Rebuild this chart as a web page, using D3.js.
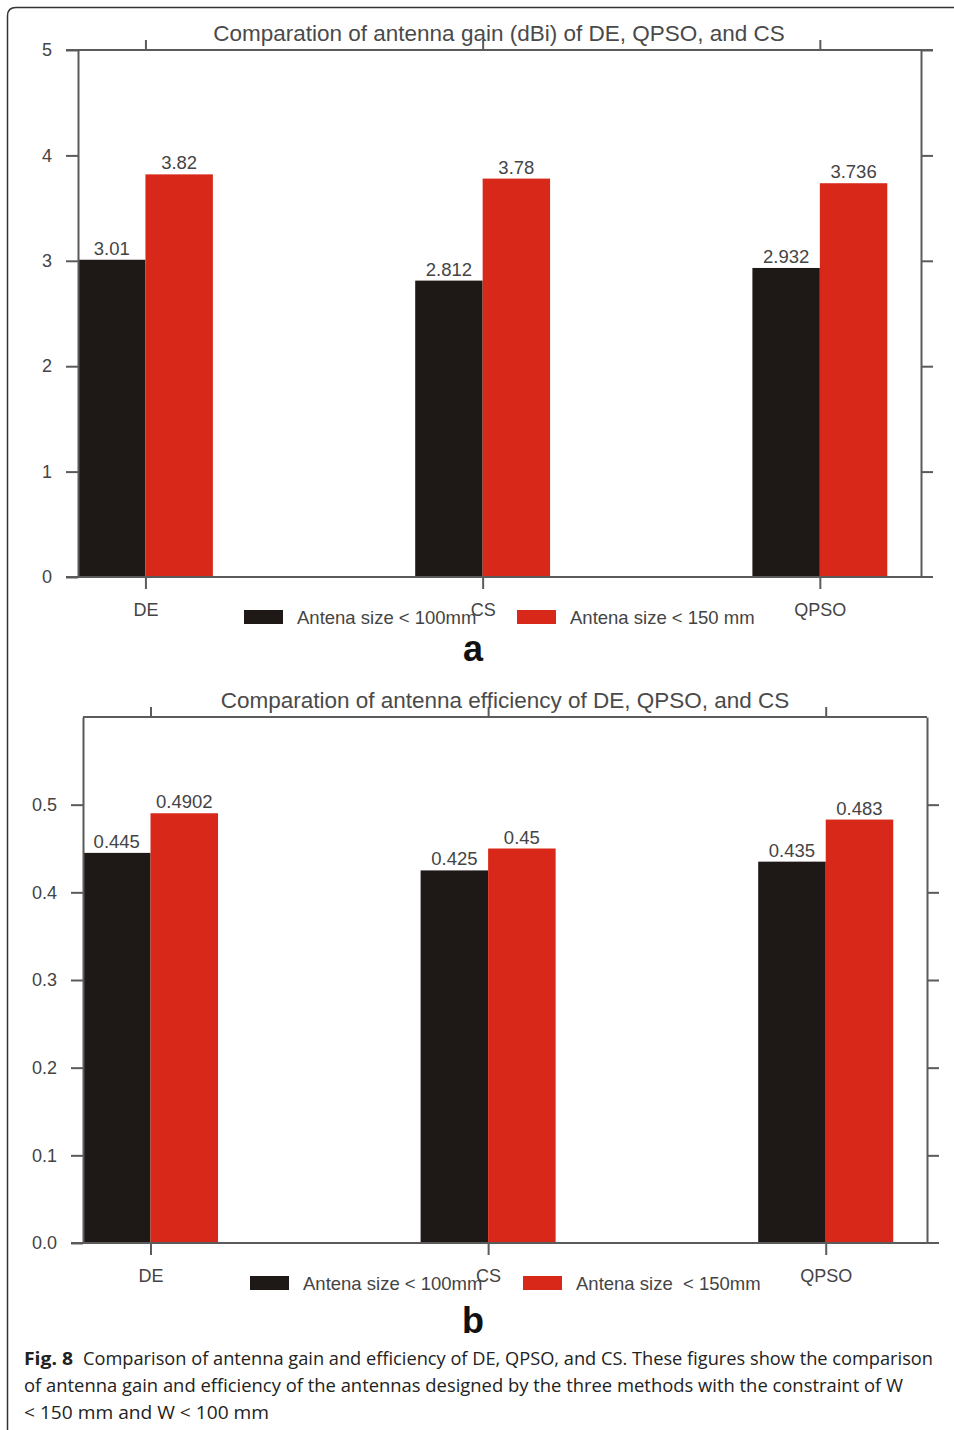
<!DOCTYPE html>
<html>
<head>
<meta charset="utf-8">
<script src="https://cdn.jsdelivr.net/npm/d3@7"></script>
<style>
  body { margin: 0; background: #fff; }
  svg { display: block; }
  .axis path, .axis line { stroke: #5b5b5b; stroke-width: 2; }
  .axis text { fill: #444; font-family: "Liberation Sans", Arial, sans-serif; font-size: 18px; }
</style>
</head>
<body>
<svg id="fig" width="954" height="1430"></svg>
<script>
const w = 954,
      h = 1430;

// categories and series
const methods = ['DE', 'CS', 'QPSO'];
const seriesNames = ['Antena size < 100mm', 'Antena size < 150 mm'];
const seriesNamesB = ['Antena size < 100mm', 'Antena size  < 150mm'];
const gain100 = [3.01, 2.812, 2.932];
const gain150 = [3.82, 3.78, 3.736];
const eff100 = [0.445, 0.425, 0.435];
const eff150 = [0.4902, 0.45, 0.483];
const gainLabels100 = ['3.01', '2.812', '2.932'];
const gainLabels150 = ['3.82', '3.78', '3.736'];
const effLabels100 = ['0.445', '0.425', '0.435'];
const effLabels150 = ['0.4902', '0.45', '0.483'];
const gainTicks = [0, 1, 2, 3, 4, 5];
const effTicks = [0, 0.1, 0.2, 0.3, 0.4, 0.5];
const colors = ['#1e1917', '#d8281a'];

const svg = d3.select('#fig');

// outer frame of the figure
svg.append('path')
   .attr('d', 'M7.5,1430 V16 Q7.5,7.5 16,7.5 H954')
   .attr('fill', 'none')
   .attr('stroke', '#333')
   .attr('stroke-width', 1.5);

const drawChart = (opt) => {
    const g = svg.append('g');
    const x = d3.scaleLinear().domain([0.8, 3.3]).range([opt.left, opt.right]);
    const y = d3.scaleLinear().domain(opt.yDomain).range([opt.bottom, opt.top]);
    const bw = 0.2;

    // bars
    [opt.s1, opt.s2].forEach((vals, si) => {
        g.selectAll(null)
         .data(vals)
         .enter()
         .append('rect')
         .attr('x', (d, i) => x(i + 1 - bw + si * bw))
         .attr('width', x(1 + bw) - x(1))
         .attr('y', d => y(d))
         .attr('height', d => y(opt.yDomain[0]) - y(d))
         .attr('fill', colors[si]);
    });

    // value labels
    [opt.l1, opt.l2].forEach((labs, si) => {
        const vals = si === 0 ? opt.s1 : opt.s2;
        g.selectAll(null)
         .data(labs)
         .enter()
         .append('text')
         .attr('x', (d, i) => x(i + 1 - bw / 2 + si * bw))
         .attr('y', (d, i) => y(vals[i]) - 5)
         .attr('text-anchor', 'middle')
         .attr('fill', '#444')
         .style('font-family', '"Liberation Sans", Arial, sans-serif')
         .style('font-size', '18.5px')
         .text(d => d);
    });

    // axes
    g.append('g').attr('class', 'axis')
     .attr('transform', `translate(${opt.left},0)`)
     .call(d3.axisLeft(y).tickValues(opt.ticks).tickFormat(opt.fmt).tickSize(12).tickSizeOuter(0).tickPadding(14));
    g.append('g').attr('class', 'axis')
     .attr('transform', `translate(${opt.right},0)`)
     .call(d3.axisRight(y).tickValues(opt.ticks.slice(1)).tickFormat('').tickSize(12).tickSizeOuter(0));
    g.append('g').attr('class', 'axis')
     .attr('transform', `translate(0,${opt.top})`)
     .call(d3.axisTop(x).tickValues([1, 2, 3]).tickFormat('').tickSize(10).tickSizeOuter(0))
     .select('.domain').remove();
    g.append('g').attr('class', 'axis')
     .attr('transform', `translate(0,${opt.bottom})`)
     .call(d3.axisBottom(x).tickValues([1, 2, 3]).tickFormat((d, i) => methods[i]).tickSize(12).tickSizeOuter(0).tickPadding(14))
     .select('.domain').remove();

    // frame lines top and bottom
    g.append('line')
     .attr('x1', opt.left - opt.topExt).attr('x2', opt.right + opt.topExt)
     .attr('y1', opt.top).attr('y2', opt.top)
     .attr('stroke', '#5b5b5b').attr('stroke-width', 2);
    g.append('line')
     .attr('x1', opt.left - 12).attr('x2', opt.right + 12)
     .attr('y1', opt.bottom).attr('y2', opt.bottom)
     .attr('stroke', '#5b5b5b').attr('stroke-width', 2);

    // title
    g.append('text')
     .attr('x', opt.titleX).attr('y', opt.top - 9)
     .attr('text-anchor', 'middle')
     .attr('fill', '#4a4a4a')
     .style('font-family', '"Liberation Sans", Arial, sans-serif')
     .style('font-size', '22.5px')
     .text(opt.title);

    // legend
    opt.legend.forEach((name, si) => {
        g.append('rect')
         .attr('x', opt.legX[si]).attr('y', opt.legY)
         .attr('width', 39).attr('height', 14)
         .attr('fill', colors[si]);
        g.append('text')
         .attr('x', opt.legX[si] + 53).attr('y', opt.legY + 14)
         .attr('fill', '#444')
         .style('font-family', '"Liberation Sans", Arial, sans-serif')
         .style('font-size', '18.5px')
         .style('white-space', 'pre')
         .text(name);
    });

    // panel letter
    g.append('text')
     .attr('x', 473).attr('y', opt.letterY)
     .attr('text-anchor', 'middle')
     .attr('fill', '#111')
     .style('font-family', '"Liberation Sans", Arial, sans-serif')
     .style('font-size', '36px')
     .style('font-weight', 'bold')
     .text(opt.letter);
};

drawChart({
    left: 78, right: 921, top: 50, bottom: 577,
    yDomain: [0, 5], ticks: gainTicks, fmt: d3.format('d'),
    s1: gain100, s2: gain150, l1: gainLabels100, l2: gainLabels150,
    topExt: 12, titleX: 499,
    title: 'Comparation of antenna gain (dBi) of DE, QPSO, and CS',
    legend: seriesNames, legX: [244, 517], legY: 610,
    letter: 'a', letterY: 661
});

drawChart({
    left: 83, right: 927, top: 717, bottom: 1243,
    yDomain: [0, 0.6], ticks: effTicks, fmt: d3.format('.1f'),
    s1: eff100, s2: eff150, l1: effLabels100, l2: effLabels150,
    topExt: 0, titleX: 505,
    title: 'Comparation of antenna efficiency of DE, QPSO, and CS',
    legend: seriesNamesB, legX: [250, 523], legY: 1276,
    letter: 'b', letterY: 1333
});

// caption, one text per line, squeezed to the widths of the reference
const captionBold = 'Fig. 8';
const captionLines = [
    'Comparison of antenna gain and efficiency of DE, QPSO, and CS. These figures show the comparison',
    'of antenna gain and efficiency of the antennas designed by the three methods with the constraint of W',
    '< 150 mm and W < 100 mm'
];
const captionX = [83, 24, 24];
const captionLen = [850, 879, 245];
captionLines.forEach((line, i) => {
    svg.append('text')
       .attr('x', captionX[i]).attr('y', 1365 + i * 27)
       .attr('fill', '#222')
       .attr('textLength', captionLen[i])
       .attr('lengthAdjust', 'spacingAndGlyphs')
       .style('font-family', '"Open Sans", sans-serif')
       .style('font-size', '18px')
       .text(line);
});
svg.append('text')
   .attr('x', 24).attr('y', 1365)
   .attr('fill', '#222')
   .attr('textLength', 49)
   .attr('lengthAdjust', 'spacingAndGlyphs')
   .style('font-family', '"Open Sans", sans-serif')
   .style('font-size', '18px')
   .style('font-weight', 'bold')
   .text(captionBold);
</script>
</body>
</html>
